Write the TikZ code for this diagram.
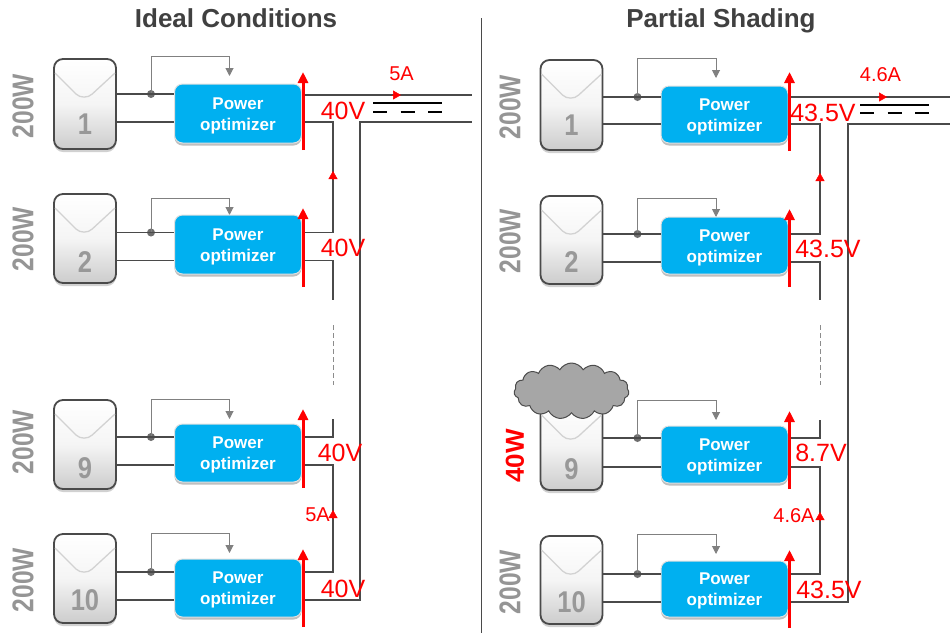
\documentclass[tikz,border=0pt]{standalone}
\usepackage{fontspec}
\setmainfont{Liberation Sans}
\usetikzlibrary{arrows.meta,shapes.symbols,shadows,calc}
\definecolor{wirec}{HTML}{4A4A4A}
\definecolor{loopc}{HTML}{808080}
\definecolor{optc}{HTML}{00B0F0}
\definecolor{txtg}{HTML}{989898}
\definecolor{watt}{HTML}{959595}
\definecolor{vline}{HTML}{D2D2D2}
\definecolor{titlec}{HTML}{404040}
\definecolor{redc}{HTML}{FF0000}
\tikzset{
  modbox/.style={draw=wirec,line width=1.8pt,rounded corners=9pt,inner sep=0pt,minimum width=62pt,
    top color=white,bottom color=black!20,middle color=white!96!black,
    drop shadow={shadow xshift=0pt,shadow yshift=-3pt,opacity=.18,fill=black}},
  optbox/.style={draw=black!12,line width=1pt,fill=optc,rounded corners=8pt,inner sep=0pt,minimum width=127pt,
    text=white,align=center,font=\fontsize{17}{21}\selectfont\bfseries,
    drop shadow={shadow xshift=0pt,shadow yshift=-2.5pt,opacity=.25,fill=black}},
  wire/.style={draw=wirec,line width=1.6pt},
  loopw/.style={draw=loopc,line width=1pt,-{Triangle[width=8pt,length=8pt]},loopc},
  jdot/.style={circle,fill=loopc!85!black,inner sep=0pt,minimum size=8pt},
  vmark/.style={draw=vline,line width=1.3pt},
  digit/.style={text=txtg,font=\fontsize{30}{30}\selectfont\bfseries,xscale=.85,transform shape,inner sep=0pt},
  wlabel/.style={text=watt,font=\fontsize{30}{30}\selectfont\bfseries,rotate=90,xscale=.82,transform shape,inner sep=0pt},
  bigred/.style={draw=redc,line width=3pt,-{Triangle[width=10pt,length=11pt]},redc},
  smallred/.style={draw=redc,line width=.5pt,-{Triangle[width=9pt,length=8pt]},redc},
  vlabel/.style={text=redc,font=\fontsize{25}{25}\selectfont,inner sep=0pt},
  alabel/.style={text=redc,font=\fontsize{20}{20}\selectfont,inner sep=0pt},
  heading/.style={text=titlec,font=\fontsize{26}{26}\selectfont\bfseries,inner sep=0pt},
  dcl/.style={draw=black,line width=1.8pt},
  gapw/.style={draw=black!45,line width=.7pt,dashed,dash pattern=on 5pt off 3pt},
  shade cloud/.style={cloud,cloud puffs=15,cloud puff arc=120,aspect=2,draw=black!70,line width=1pt,fill=black!35,inner sep=0pt,minimum width=115pt,minimum height=56pt}
}
\def\rowlist{L1/0/59/149/84/143/94/122/56/76/72/150/1/124,
L2/0/194/283/215/274/232.5/260.5/198/215/208/287/2/262,
L9/0/400/489/424/482/437/465/399/419/409/488/9/468,
L10/0/534/623/559/617/572/600/533/553/549/627/10/600,
R1/486.5/60/150/86/143/97/124/58/78/72/151/1/125,
R2/486.5/196/284/217/274/234/262/198/217/209/287/2/262,
R9/486.5/401/490/426/483/438/467/400/420/411/489/9/469,
R10/486.5/536/624/561/617/574/602/534/554/550/628/10/602}
\begin{document}
\begin{tikzpicture}[x=1pt,y=-1pt]
\useasboundingbox (0,0) rectangle (950,633);
\fill[white] (0,0) rectangle (950,633);
% titles and divider
\node[heading] (t1) at (236,18) {Ideal Conditions};
\node[heading] (t2) at (721,21) {Partial Shading};
\coordinate (divT) at (481.5,18);
\coordinate (divB) at (481.5,633);
\draw[wire] (divT) -- (divB);
% rows
\foreach \rid/\xo/\mt/\mb/\ot/\ob/\wa/\wb/\lp/\tp/\rtp/\rbt/\nm/\ny in \rowlist {
  \coordinate (\rid a) at ({\xo+150},\wa);
  \coordinate (\rid b) at ({\xo+150},\wb);
  \coordinate (\rid tip) at ({\xo+229.5},\tp);
  \coordinate (\rid top) at ({\xo+151},\lp);
  \coordinate (\rid rt) at ({\xo+303},\rtp);
  \coordinate (\rid rb) at ({\xo+303},\rbt);
  \node[modbox,minimum height={(\mb-\mt)*1pt}] (\rid m) at ({\xo+85},{(\mt+\mb)/2}) {};
  \path[vmark] ($(\rid m.north west)+(2,15)$) -- ($(\rid m.north west)+(23,36)$)
     .. controls +(4,4) and +(-4,4) .. ($(\rid m.north west)+(39,36)$) -- ($(\rid m.north east)+(-2,15)$);
  \node[digit] (\rid n) at ({\xo+85},\ny) {\nm};
  \node[jdot] (\rid j) at (\rid top |- \rid a) {};
  \draw[loopw] (\rid j.center) -- (\rid top) -- (\rid tip |- \rid top) -- (\rid tip);
  \node[optbox,minimum height={(\ob-\ot)*1pt}] (\rid o) at ({\xo+238},{(\ot+\ob)/2}) {\rule{0pt}{16.5pt}Power\\optimizer};
  \draw[wire] (\rid m.east |- \rid a) -- (\rid o.west |- \rid a);
  \draw[wire] (\rid m.east |- \rid b) -- (\rid o.west |- \rid b);
}
% left string
\coordinate (Lx) at (333,0);
\coordinate (Lm) at (360,0);
\coordinate (LbusA) at (472,95);
\coordinate (LbusB) at (472,122);
\coordinate (Lg1) at (333,300);
\coordinate (Lg2) at (333,325);
\coordinate (Lg3) at (333,385);
\coordinate (Lg4) at (333,419);
\draw[wire] (L1o.east |- LbusA) -- (LbusA);
\draw[wire] (L1o.east |- L1b) -- (Lx |- L1b) -- (Lx |- L2a) -- (L2o.east |- L2a);
\draw[wire] (L2o.east |- L2b) -- (Lx |- L2b) -- (Lg1);
\draw[gapw] (Lg2) -- (Lg3);
\draw[wire] (Lg4) -- (Lx |- L9a) -- (L9o.east |- L9a);
\draw[wire] (L9o.east |- L9b) -- (Lx |- L9b) -- (Lx |- L10a) -- (L10o.east |- L10a);
\draw[wire] (L10o.east |- L10b) -- (Lm |- L10b) -- (Lm |- LbusB) -- (LbusB);
% right string
\coordinate (Rx) at (820,0);
\coordinate (Rm) at (848,0);
\coordinate (RbusA) at (950,97);
\coordinate (RbusB) at (950,124);
\coordinate (Rg1) at (820,300);
\coordinate (Rg2) at (820,325);
\coordinate (Rg3) at (820,385);
\coordinate (Rg4) at (820,420);
\draw[wire] (R1o.east |- RbusA) -- (RbusA);
\draw[wire] (R1o.east |- R1b) -- (Rx |- R1b) -- (Rx |- R2a) -- (R2o.east |- R2a);
\draw[wire] (R2o.east |- R2b) -- (Rx |- R2b) -- (Rg1);
\draw[gapw] (Rg2) -- (Rg3);
\draw[wire] (Rg4) -- (Rx |- R9a) -- (R9o.east |- R9a);
\draw[wire] (R9o.east |- R9b) -- (Rx |- R9b) -- (Rx |- R10a) -- (R10o.east |- R10a);
\draw[wire] (R10o.east |- R10b) -- (Rm |- R10b) -- (Rm |- RbusB) -- (RbusB);
% DC symbols
\coordinate (Ls1) at (373,103); \coordinate (Ls2) at (442,103);
\coordinate (Ld1) at (373,112); \coordinate (Ld2) at (442,112);
\draw[dcl] (Ls1) -- (Ls2);
\draw[dcl,dash pattern=on 14pt off 13.5pt] (Ld1) -- (Ld2);
\coordinate (Rs1) at (860,105); \coordinate (Rs2) at (929,105);
\coordinate (Rd1) at (860,113); \coordinate (Rd2) at (929,113);
\draw[dcl] (Rs1) -- (Rs2);
\draw[dcl,dash pattern=on 14pt off 13.5pt] (Rd1) -- (Rd2);
% red arrows
\foreach \rid in {L1,L2,L9,L10,R1,R2,R9,R10} {
  \draw[bigred] (\rid rb) -- (\rid rt);
}
\coordinate (La1) at (392,95); \coordinate (La2) at (401,95);
\coordinate (La3) at (333,180); \coordinate (La4) at (333,171);
\coordinate (La5) at (333,519); \coordinate (La6) at (333,510);
\coordinate (Ra1) at (878,97); \coordinate (Ra2) at (887,97);
\coordinate (Ra3) at (820,182); \coordinate (Ra4) at (820,173);
\coordinate (Ra5) at (820,521); \coordinate (Ra6) at (820,512);
\foreach \p/\q in {La1/La2,La3/La4,La5/La6,Ra1/Ra2,Ra3/Ra4,Ra5/Ra6} {
  \draw[smallred] (\p) -- (\q);
}
% labels
\node[vlabel] (v1) at (343,111) {40V};
\node[vlabel] (v2) at (343,248) {40V};
\node[vlabel] (v3) at (340,453) {40V};
\node[vlabel] (v4) at (343,589) {40V};
\node[vlabel] (v5) at (823,113) {43.5V};
\node[vlabel] (v6) at (828,249) {43.5V};
\node[vlabel] (v7) at (821,453) {8.7V};
\node[vlabel] (v8) at (829,590) {43.5V};
\node[alabel] (i1) at (401.5,74) {5A};
\node[alabel] (i2) at (880.5,75) {4.6A};
\node[alabel] (i3) at (317.5,515) {5A};
\node[alabel] (i4) at (794,516) {4.6A};
\node[wlabel] (w1) at (23,106) {200W};
\node[wlabel] (w2) at (23,239) {200W};
\node[wlabel] (w3) at (23,442) {200W};
\node[wlabel] (w4) at (23,580) {200W};
\node[wlabel] (w5) at (510,107) {200W};
\node[wlabel] (w6) at (510,241) {200W};
\node[wlabel] (w7) at (510,582) {200W};
\node[text=redc,font=\fontsize{26}{26}\selectfont\bfseries,rotate=90,inner sep=0pt] (w8) at (515,456) {40W};
% cloud
\node[shade cloud] (cl) at (571.5,391) {};
\end{tikzpicture}
\end{document}
